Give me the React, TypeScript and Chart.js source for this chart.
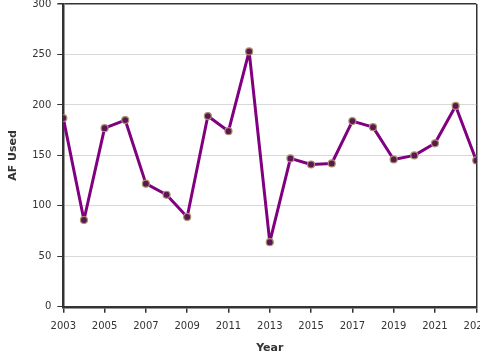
import React, { useEffect, useRef } from "react";
import { Chart, registerables } from "chart.js";

Chart.register(...registerables);

const years = [2003, 2004, 2005, 2006, 2007, 2008, 2009, 2010, 2011, 2012, 2013, 2014, 2015, 2016, 2017, 2018, 2019, 2020, 2021, 2022, 2023];
const afUsed = [187, 86, 177, 185, 122, 111, 89, 189, 174, 253, 64, 147, 141, 142, 184, 178, 146, 150, 162, 199, 145];
const yTicks = [0, 50, 100, 150, 200, 250, 300];

const DARK = "#333333";
const FONT = "'DejaVu Sans', Verdana, sans-serif";

export default function App() {
  const ref = useRef<HTMLCanvasElement | null>(null);
  useEffect(() => {
    const canvas = ref.current;
    if (!canvas) return;
    const chart = new Chart(canvas, {
      type: "line",
      data: {
        datasets: [
          {
            data: years.map((y, i) => ({ x: y, y: afUsed[i] })),
            borderColor: "#800080",
            borderWidth: 3,
            borderJoinStyle: "round",
            pointRadius: 3.5,
            pointBackgroundColor: "#5c1650",
            pointBorderColor: "#a89272",
            pointBorderWidth: 1.2,
            tension: 0,
          },
        ],
      },
      options: {
        responsive: false,
        animation: false,
        layout: { padding: { top: 0, right: 0, left: 7, bottom: 2 } },
        plugins: { legend: { display: false }, tooltip: { enabled: false } },
        scales: {
          x: {
            type: "linear",
            min: years[0],
            max: years[years.length - 1],
            ticks: {
              stepSize: 2,
              color: DARK,
              font: { family: FONT, size: 10 },
              callback: (v: any) => String(v),
              maxRotation: 0,
              padding: 8,
            },
            grid: {
              color: (ctx: any) => (ctx.tick && ctx.tick.value === years[years.length - 1] ? DARK : "rgba(0,0,0,0)"),
              tickColor: DARK,
              tickLength: 6,
              lineWidth: 1.5,
            },
            border: { color: DARK, width: 2.5 },
            title: {
              display: true,
              text: "Year",
              color: DARK,
              font: { family: FONT, size: 11, weight: "bold" },
              padding: { top: 1, bottom: 0 },
            },
          },
          y: {
            min: 0,
            max: 300,
            afterBuildTicks: (axis: any) => {
              axis.ticks = yTicks.map((v) => ({ value: v }));
            },
            ticks: {
              color: DARK,
              font: { family: FONT, size: 10 },
              padding: 6,
            },
            grid: {
              color: (ctx: any) => (ctx.tick && ctx.tick.value === 300 ? DARK : "#d9d9d9"),
              tickColor: DARK,
              tickLength: 6,
              lineWidth: (ctx: any) => (ctx.tick && ctx.tick.value === 300 ? 1.5 : 1),
            },
            border: { color: DARK, width: 2.5 },
            title: {
              display: true,
              text: "AF Used",
              color: DARK,
              font: { family: FONT, size: 11, weight: "bold" },
              padding: { top: 0, bottom: 6 },
            },
          },
        },
      },
    });
    return () => chart.destroy();
  }, []);
  return (
    <div style={{ position: "absolute", left: 0, top: 0, width: 480, height: 360, overflow: "hidden", background: "#fff" }}>
      <canvas ref={ref} width={497} height={365} style={{ width: 497, height: 365, display: "block", position: "absolute", left: 0, top: -8 }} />
    </div>
  );
}
